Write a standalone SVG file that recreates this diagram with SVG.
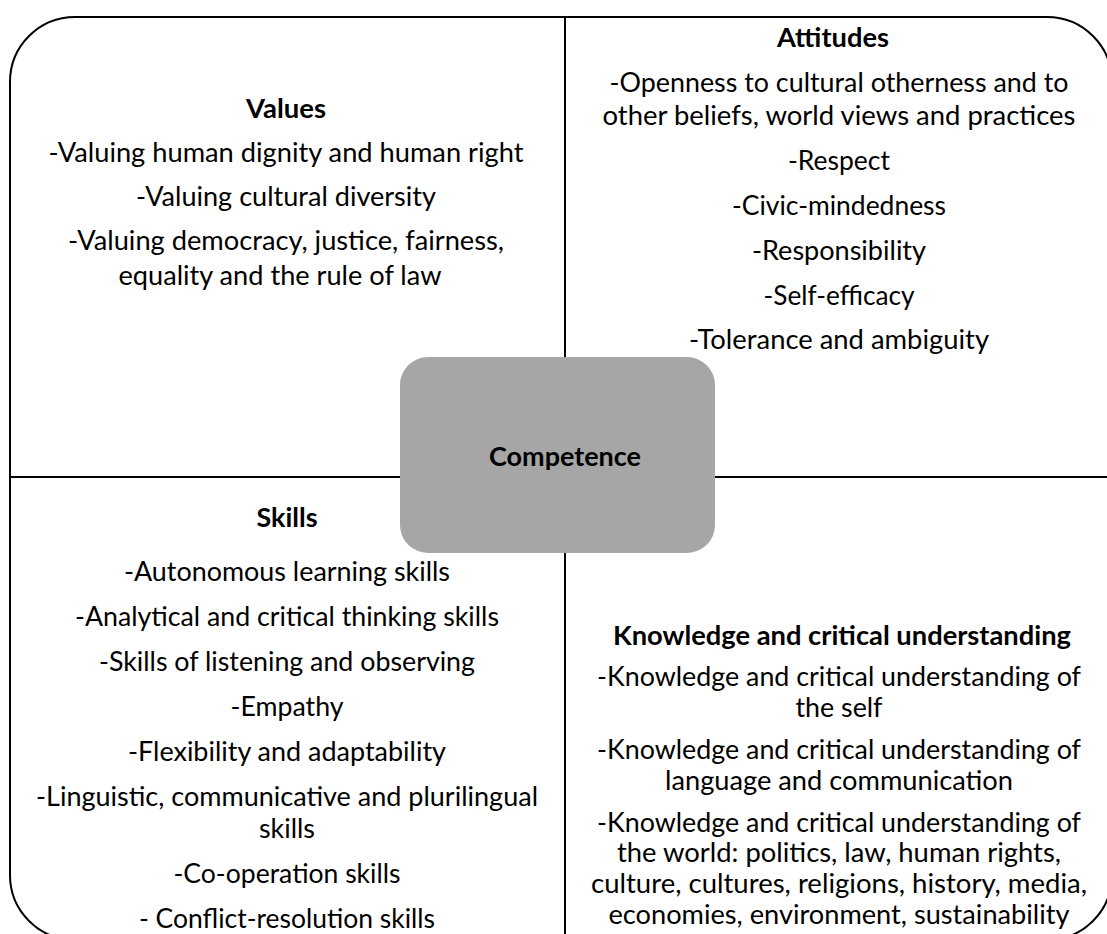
<svg xmlns="http://www.w3.org/2000/svg" width="1107" height="934" viewBox="0 0 1107 934">
<style>
  .t { font-family: "Lato", "Open Sans", sans-serif; font-size: 26px; fill: #000; text-anchor: middle; }
  .b { font-weight: bold; }
  .line { stroke: #000; stroke-width: 2; fill: none; }
</style>
<rect width="1107" height="934" fill="#fff"/>
<g id="frame">
  <rect x="10" y="17" width="1102" height="923" rx="65" ry="65" class="line"/>
</g>
<g id="connectors">
  <line x1="10" y1="477" x2="1112" y2="477" class="line"/>
  <line x1="565" y1="17" x2="565" y2="940" class="line"/>
</g>
<g id="values">
  <text class="t b" x="286" y="118" textLength="80" lengthAdjust="spacingAndGlyphs">Values</text>
  <text class="t" x="286" y="162" textLength="475" lengthAdjust="spacingAndGlyphs">-Valuing human dignity and human right</text>
  <text class="t" x="286" y="206" textLength="300" lengthAdjust="spacingAndGlyphs">-Valuing cultural diversity</text>
  <text class="t" x="286" y="250" textLength="436" lengthAdjust="spacingAndGlyphs">-Valuing democracy, justice, fairness,</text>
  <text class="t" x="280" y="285" textLength="323" lengthAdjust="spacingAndGlyphs">equality and the rule of law</text>
</g>
<g id="attitudes">
  <text class="t b" x="833" y="47" textLength="112" lengthAdjust="spacingAndGlyphs">Attitudes</text>
  <text class="t" x="839" y="92" textLength="459" lengthAdjust="spacingAndGlyphs">-Openness to cultural otherness and to</text>
  <text class="t" x="839" y="125" textLength="473" lengthAdjust="spacingAndGlyphs">other beliefs, world views and practices</text>
  <text class="t" x="839" y="170" textLength="102" lengthAdjust="spacingAndGlyphs">-Respect</text>
  <text class="t" x="839" y="215" textLength="214" lengthAdjust="spacingAndGlyphs">-Civic-mindedness</text>
  <text class="t" x="839" y="260" textLength="174" lengthAdjust="spacingAndGlyphs">-Responsibility</text>
  <text class="t" x="839" y="305" textLength="151" lengthAdjust="spacingAndGlyphs">-Self-efficacy</text>
  <text class="t" x="839" y="349" textLength="300" lengthAdjust="spacingAndGlyphs">-Tolerance and ambiguity</text>
</g>
<g id="competence">
  <rect x="400" y="357" width="315" height="196" rx="28" ry="28" fill="#a6a6a6"/>
  <text class="t b" x="565" y="466" textLength="152" lengthAdjust="spacingAndGlyphs">Competence</text>
</g>
<g id="skills">
  <text class="t b" x="287" y="527" textLength="61" lengthAdjust="spacingAndGlyphs">Skills</text>
  <text class="t" x="287" y="581" textLength="326" lengthAdjust="spacingAndGlyphs">-Autonomous learning skills</text>
  <text class="t" x="287" y="626" textLength="424" lengthAdjust="spacingAndGlyphs">-Analytical and critical thinking skills</text>
  <text class="t" x="287" y="671" textLength="376" lengthAdjust="spacingAndGlyphs">-Skills of listening and observing</text>
  <text class="t" x="287" y="716" textLength="113" lengthAdjust="spacingAndGlyphs">-Empathy</text>
  <text class="t" x="287" y="761" textLength="318" lengthAdjust="spacingAndGlyphs">-Flexibility and adaptability</text>
  <text class="t" x="287" y="806" textLength="502" lengthAdjust="spacingAndGlyphs">-Linguistic, communicative and plurilingual</text>
  <text class="t" x="287" y="838" textLength="56" lengthAdjust="spacingAndGlyphs">skills</text>
  <text class="t" x="287" y="883" textLength="227" lengthAdjust="spacingAndGlyphs">-Co-operation skills</text>
  <text class="t" x="287" y="928" textLength="296" lengthAdjust="spacingAndGlyphs">- Conflict-resolution skills</text>
</g>
<g id="knowledge">
  <text class="t b" x="842" y="645" textLength="458" lengthAdjust="spacingAndGlyphs">Knowledge and critical understanding</text>
  <text class="t" x="839" y="686" textLength="484" lengthAdjust="spacingAndGlyphs">-Knowledge and critical understanding of</text>
  <text class="t" x="839" y="717" textLength="87" lengthAdjust="spacingAndGlyphs">the self</text>
  <text class="t" x="839" y="759" textLength="484" lengthAdjust="spacingAndGlyphs">-Knowledge and critical understanding of</text>
  <text class="t" x="839" y="790" textLength="348" lengthAdjust="spacingAndGlyphs">language and communication</text>
  <text class="t" x="839" y="832" textLength="484" lengthAdjust="spacingAndGlyphs">-Knowledge and critical understanding of</text>
  <text class="t" x="839" y="862" textLength="444" lengthAdjust="spacingAndGlyphs">the world: politics, law, human rights,</text>
  <text class="t" x="839" y="893" textLength="496" lengthAdjust="spacingAndGlyphs">culture, cultures, religions, history, media,</text>
  <text class="t" x="839" y="924" textLength="461" lengthAdjust="spacingAndGlyphs">economies, environment, sustainability</text>
</g>
</svg>
